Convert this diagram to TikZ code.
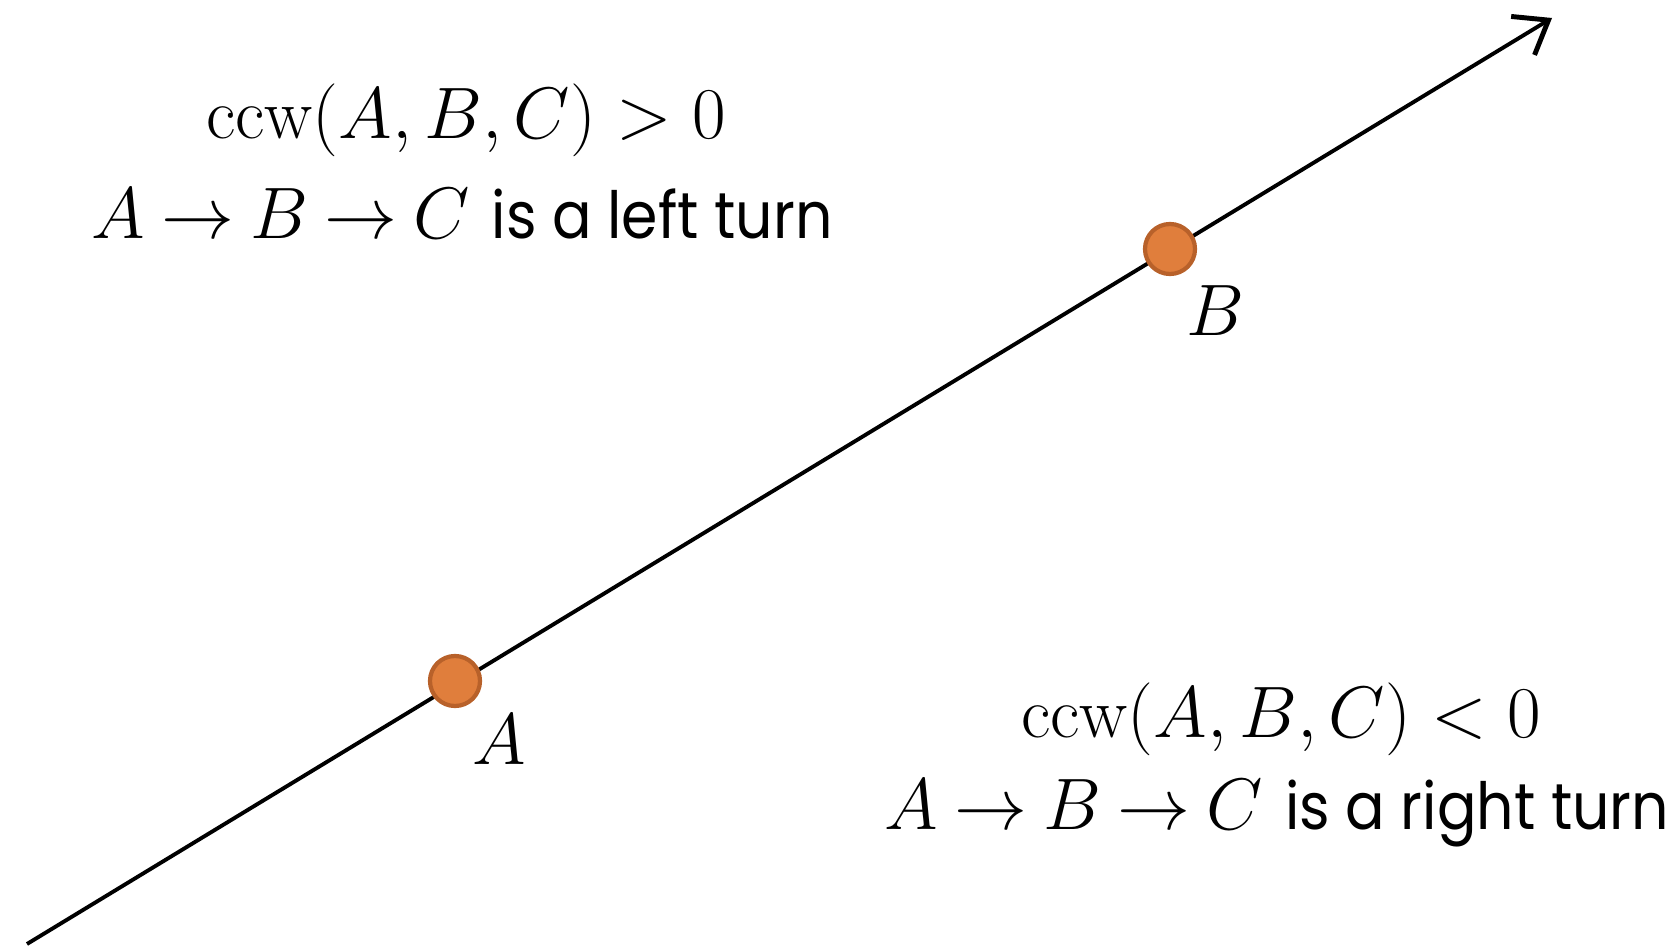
\documentclass[tikz,border=0pt]{standalone}
\usepackage{fontspec}
\setsansfont[FakeStretch=0.9]{Poppins}
\usetikzlibrary{arrows.meta}
\definecolor{dotfill}{HTML}{E07E3C}
\definecolor{dotline}{HTML}{B8612A}
\tikzset{
	pt/.style={shape=circle, draw=dotline, fill=dotfill, line width=1.2pt, minimum size=0.5cm, inner sep=0pt},
	txt/.style={font=\fontsize{20.5}{24}\selectfont, align=center, inner sep=0pt}
}
\newcommand{\turnsf}[1]{\textsf{\fontsize{18.5}{24}\selectfont #1}}
\newcommand{\abc}{A\mskip4mu{\rightarrow}\mskip4mu B\mskip4mu{\rightarrow}\mskip4mu C}
\begin{document}
\begin{tikzpicture}[x=0.01cm, y=-0.01cm]
			\useasboundingbox (0, 0) rectangle (1678, 952);

			\coordinate (start) at (27, 944);
			\coordinate (end) at (1552, 18);

			\draw[line width=1.1pt, -{Straight Barb[length=3mm, width=4.5mm, line width=1.4pt]}] (start) -- (end);

			\node[pt, label={[txt, xshift=-0.02cm, yshift=-0.14cm]below right:$A$}] (A) at (455, 681){};
			\node[pt, label={[txt, xshift=-0.03cm, yshift=-0.17cm]below right:$B$}] (B) at (1170, 249){};

			\node[txt] (ccwpos) at (466, 120) {$\mathrm{ccw}(A, B, C) > 0$};
			\node[txt] (leftturn) at (462, 214) {$\abc$ \turnsf{is a left turn}};

			\node[txt] (ccwneg) at (1281, 719) {$\mathrm{ccw}(A, B, C) < 0$};
			\node[txt] (rightturn) at (1277, 813) {$\abc$ \turnsf{is a right turn}};
		\end{tikzpicture}
\end{document}
